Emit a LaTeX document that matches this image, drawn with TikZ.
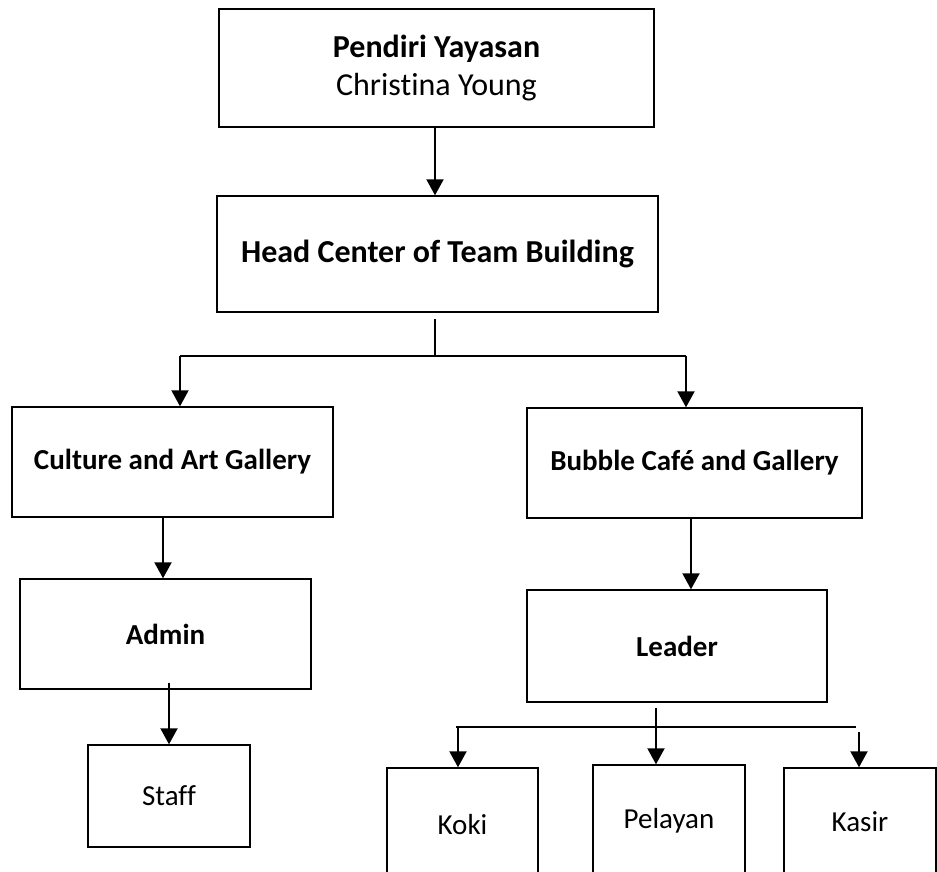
\documentclass[tikz,border=0pt]{standalone}
\usepackage{fontspec}
\setmainfont{Carlito}[Ligatures=NoCommon]
\usetikzlibrary{arrows.meta}

\begin{document}
\begin{tikzpicture}[x=1pt, y=-1pt,
    box/.style={draw, line width=1.4pt, align=center, inner sep=0pt, font=\fontsize{29}{38}\selectfont},
    unit/.style={box, font=\fontsize{29}{38}\selectfont\bfseries},
    top/.style={box, font=\fontsize{32}{38}\selectfont\bfseries},
    arr/.style={-{Triangle[width=17pt,length=16pt]}, line width=2pt},
    link/.style={line width=2pt}]
  \useasboundingbox (0,0) rectangle (937,871);

  \node[top, minimum width=435pt, minimum height=118pt] (pendiri) at (436.5,68) {Pendiri Yayasan\\\mdseries Christina Young};
  \node[top, minimum width=441pt, minimum height=116pt] (head) at (437.5,254) {Head Center of Team Building};
  \node[unit, minimum width=321pt, minimum height=110pt] (culture) at (172.5,462) {Culture and Art Gallery};
  \node[unit, minimum width=335pt, minimum height=110pt] (bubble) at (694.5,463) {Bubble Café and Gallery};
  \node[unit, minimum width=291pt, minimum height=110pt] (admin) at (165.5,634) {Admin};
  \node[unit, minimum width=300pt, minimum height=112pt] (leader) at (677,646) {Leader};
  \node[box, minimum width=162pt, minimum height=102pt] (staff) at (169,796) {Staff};
  % baris bawah, terpotong di tepi gambar
  \node[box, minimum width=151pt, minimum height=114pt] (koki) at (462.5,825) {Koki};
  \node[box, minimum width=152pt, minimum height=112pt] (pelayan) at (669,821) {Pelayan};
  \node[box, minimum width=152pt, minimum height=108pt] (kasir) at (860,822) {Kasir};

  \coordinate (hubtop) at (435,319);
  \coordinate (hub) at (435,356);
  \coordinate (hubL) at (180,356);
  \coordinate (hubR) at (686,356);
  \coordinate (split) at (656,727);
  \coordinate (rowL) at (456,727);
  \coordinate (rowR) at (856,727);

  \draw[arr] (pendiri.south -| hub) -- (head.north -| hub);
  \draw[link] (hubtop) -- (hub);
  \draw[link] (hubL) -- (hubR);
  \draw[arr] (hubL) -- (culture.north -| hubL);
  \draw[arr] (hubR) -- (bubble.north -| hubR);

  \draw[arr] ([xshift=-9.5pt]culture.south) -- ([xshift=-2.5pt]admin.north);
  \draw[arr] ([yshift=7pt]admin.south -| staff.north) -- (staff.north);

  \draw[arr] ([xshift=-3.5pt]bubble.south) -- ([xshift=-3.5pt]bubble.south |- leader.north);
  \draw[arr] ([yshift=-5pt]leader.south -| split) -- (split |- pelayan.north);
  \draw[link] (rowL) -- (rowR);
  \draw[arr] ([xshift=2pt]rowL) -- ([xshift=2pt]rowL |- koki.north);
  \draw[arr] ([xshift=3pt, yshift=-5pt]rowR) -- ([xshift=3pt]rowR |- kasir.north);
\end{tikzpicture}
\end{document}
